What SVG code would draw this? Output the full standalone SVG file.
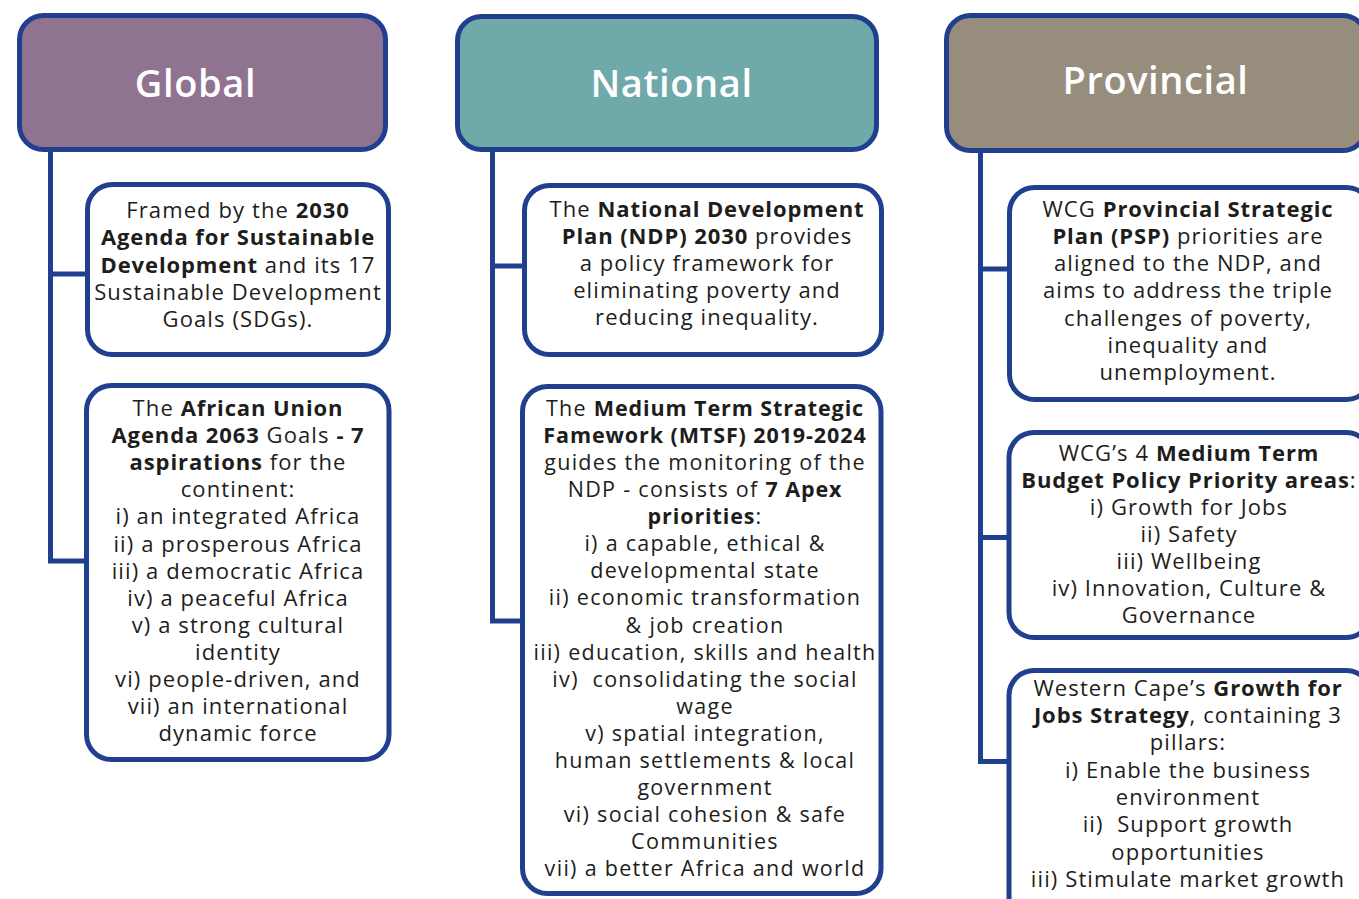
<svg xmlns="http://www.w3.org/2000/svg" width="1359" height="899" viewBox="0 0 1359 899">
  <style>
    .hdr { stroke: #213f8f; stroke-width: 5; }
    .box { fill: #ffffff; stroke: #213f8f; stroke-width: 5; }
    .ttl { font-family: "Open Sans", "Liberation Sans", sans-serif; font-size: 38px; font-weight: 600; letter-spacing: 0.6px; fill: #ffffff; text-anchor: middle; }
    .t { font-family: "Open Sans", "Liberation Sans", sans-serif; font-size: 22px; letter-spacing: 1.1px; fill: #1d1d1b; text-anchor: middle; }
    .s { font-size: 21.5px; letter-spacing: 1.3px; }
    .b { font-weight: 700; letter-spacing: 0.9px; }
    .conn { fill: none; stroke: #213f8f; stroke-width: 5; stroke-linejoin: miter; }
  </style>

  <!-- tree connectors -->
  <g id="connectors">
    <path class="conn" d="M50.5,150 V561 H87 M50.5,274 H87"/>
    <path class="conn" d="M492.5,150 V621 H523 M492.5,266 H524"/>
    <path class="conn" d="M980.5,150 V761.5 H1009 M980.5,269 H1009 M980.5,537.5 H1009"/>
  </g>

  <!-- Global column -->
  <g id="global-header">
    <rect class="hdr" x="19.5" y="15.5" width="366" height="134" rx="24" fill="#8f7391"/>
    <text class="ttl" x="195.5" y="97">Global</text>
  </g>
  <g id="global-sdg">
    <rect class="box" x="87.5" y="184.5" width="301" height="170" rx="25"/>
    <text class="t" x="238" y="218.3">Framed by the <tspan class="b">2030</tspan></text>
    <text class="t" x="238" y="245.4"><tspan class="b">Agenda for Sustainable</tspan></text>
    <text class="t" x="238" y="272.5"><tspan class="b">Development</tspan> and its 17</text>
    <text class="t" x="238" y="299.6">Sustainable Development</text>
    <text class="t" x="238" y="326.7">Goals (SDGs).</text>
  </g>
  <g id="global-au2063">
    <rect class="box" x="86.5" y="385.5" width="302.5" height="374" rx="25"/>
    <text class="t" x="238" y="416">The <tspan class="b">African Union</tspan></text>
    <text class="t" x="238" y="443.1"><tspan class="b">Agenda 2063</tspan> Goals <tspan class="b">- 7</tspan></text>
    <text class="t" x="238" y="470.2"><tspan class="b">aspirations</tspan> for the</text>
    <text class="t" x="238" y="497.3">continent:</text>
    <text class="t" x="238" y="524.4">i) an integrated Africa</text>
    <text class="t" x="238" y="551.5">ii) a prosperous Africa</text>
    <text class="t" x="238" y="578.6">iii) a democratic Africa</text>
    <text class="t" x="238" y="605.7">iv) a peaceful Africa</text>
    <text class="t" x="238" y="632.8">v) a strong cultural</text>
    <text class="t" x="238" y="659.9">identity</text>
    <text class="t" x="238" y="687">vi) people-driven, and</text>
    <text class="t" x="238" y="714.1">vii) an international</text>
    <text class="t" x="238" y="741.2">dynamic force</text>
  </g>

  <!-- National column -->
  <g id="national-header">
    <rect class="hdr" x="457.5" y="16.5" width="419" height="133" rx="24" fill="#6fa9aa"/>
    <text class="ttl" x="671.5" y="96.7">National</text>
  </g>
  <g id="national-ndp">
    <rect class="box" x="524.5" y="185.5" width="357" height="169" rx="25"/>
    <text class="t" x="707" y="216.7">The <tspan class="b">National Development</tspan></text>
    <text class="t" x="707" y="243.8"><tspan class="b">Plan (NDP) 2030</tspan> provides</text>
    <text class="t" x="707" y="270.9">a policy framework for</text>
    <text class="t" x="707" y="298">eliminating poverty and</text>
    <text class="t" x="707" y="325.1">reducing inequality.</text>
  </g>
  <g id="national-mtsf">
    <rect class="box" x="522.5" y="386.5" width="358.5" height="507" rx="25"/>
    <text class="t s" x="705" y="415.7">The <tspan class="b">Medium Term Strategic</tspan></text>
    <text class="t s" x="705" y="442.8"><tspan class="b">Famework (MTSF) 2019-2024</tspan></text>
    <text class="t s" x="705" y="469.9">guides the monitoring of the</text>
    <text class="t s" x="705" y="497">NDP - consists of <tspan class="b">7 Apex</tspan></text>
    <text class="t s" x="705" y="524.1"><tspan class="b">priorities</tspan>:</text>
    <text class="t s" x="705" y="551.2">i) a capable, ethical &amp;</text>
    <text class="t s" x="705" y="578.3">developmental state</text>
    <text class="t s" x="705" y="605.4">ii) economic transformation</text>
    <text class="t s" x="705" y="632.5">&amp; job creation</text>
    <text class="t s" x="705" y="659.6">iii) education, skills and health</text>
    <text class="t s" x="705" y="686.7">iv)&#160; consolidating the social</text>
    <text class="t s" x="705" y="713.8">wage</text>
    <text class="t s" x="705" y="740.9">v) spatial integration,</text>
    <text class="t s" x="705" y="768">human settlements &amp; local</text>
    <text class="t s" x="705" y="795.1">government</text>
    <text class="t s" x="705" y="822.2">vi) social cohesion &amp; safe</text>
    <text class="t s" x="705" y="849.3">Communities</text>
    <text class="t s" x="705" y="876.4">vii) a better Africa and world</text>
  </g>

  <!-- Provincial column -->
  <g id="provincial-header">
    <rect class="hdr" x="946.5" y="15.5" width="420" height="135" rx="24" fill="#978d7d"/>
    <text class="ttl" x="1155.5" y="94.3">Provincial</text>
  </g>
  <g id="provincial-psp">
    <rect class="box" x="1009.5" y="187.5" width="362" height="212" rx="25"/>
    <text class="t" x="1188" y="216.7">WCG <tspan class="b">Provincial Strategic</tspan></text>
    <text class="t" x="1188" y="243.9"><tspan class="b">Plan (PSP)</tspan> priorities are</text>
    <text class="t" x="1188" y="271.1">aligned to the NDP, and</text>
    <text class="t" x="1188" y="298.3">aims to address the triple</text>
    <text class="t" x="1188" y="325.5">challenges of poverty,</text>
    <text class="t" x="1188" y="352.7">inequality and</text>
    <text class="t" x="1188" y="379.9">unemployment.</text>
  </g>
  <g id="provincial-mtbpp">
    <rect class="box" x="1009" y="432.5" width="362" height="205" rx="25"/>
    <text class="t" x="1189" y="460.7">WCG’s 4 <tspan class="b">Medium Term</tspan></text>
    <text class="t" x="1189" y="487.8"><tspan class="b">Budget Policy Priority areas</tspan>:</text>
    <text class="t" x="1189" y="514.9">i) Growth for Jobs</text>
    <text class="t" x="1189" y="542">ii) Safety</text>
    <text class="t" x="1189" y="569.1">iii) Wellbeing</text>
    <text class="t" x="1189" y="596.2">iv) Innovation, Culture &amp;</text>
    <text class="t" x="1189" y="623.3">Governance</text>
  </g>
  <g id="provincial-g4j">
    <rect class="box" x="1009" y="670.5" width="362" height="260" rx="25"/>
    <text class="t" x="1188" y="695.7">Western Cape’s <tspan class="b">Growth for</tspan></text>
    <text class="t" x="1188" y="723"><tspan class="b">Jobs Strategy</tspan>, containing 3</text>
    <text class="t" x="1188" y="750.3">pillars:</text>
    <text class="t" x="1188" y="777.6">i) Enable the business</text>
    <text class="t" x="1188" y="804.9">environment</text>
    <text class="t" x="1188" y="832.2">ii)&#160; Support growth</text>
    <text class="t" x="1188" y="859.5">opportunities</text>
    <text class="t" x="1188" y="886.8">iii) Stimulate market growth</text>
  </g>
</svg>
